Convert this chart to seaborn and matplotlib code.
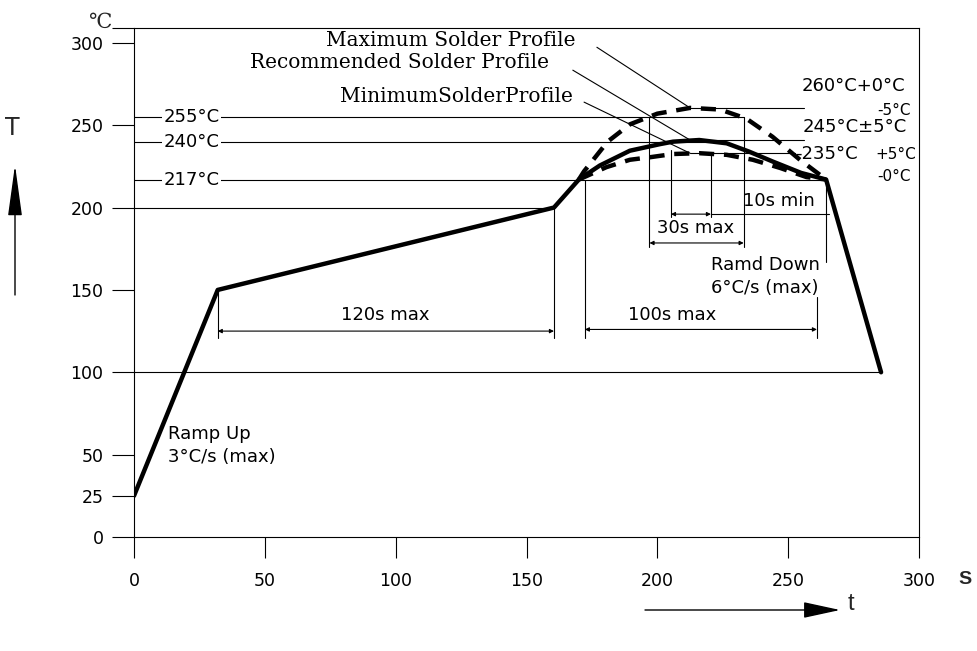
import matplotlib.pyplot as plt
import pandas as pd
import seaborn as sns

# --------- profile data (t in s, T in degC)
rec_t = [0, 32, 160.5, 170, 178, 189.5, 201, 206, 216, 226.5, 235, 244, 255, 264.5, 285.5]
rec_T = [25, 150, 200, 217, 225.5, 234.5, 238.5, 240, 241, 239, 234, 228, 221, 217, 100]

max_t = [170, 172, 181, 189.5, 200, 212.5, 224, 234, 244, 254.5, 264.5]
max_T = [217, 222, 240, 250.5, 257, 260.5, 259.5, 254, 243, 229, 217]

min_t = [170, 180.5, 189.5, 197, 206, 216, 226.5, 236.5, 247, 257, 264.5]
min_T = [217, 224.5, 229, 230.5, 232.5, 233, 232, 229, 224, 218.5, 217]

x_ticks = [0, 50, 100, 150, 200, 250, 300]
y_ticks = [0, 25, 50, 100, 150, 200, 250, 300]
t_end, T_top = 300, 309

# labelled horizontal lines from the axis: (label, T, t where it stops)
left_lines = [("255°C", 255, 233), ("240°C", 240, 220.5), ("217°C", 217, 264.5)]
plain_lines = [(200, 160.5), (100, 285.5)]

# lines to the right from the peaks
peak_t = 212.5
right_lines = [(260.5, 256), (241, 256), (233, 252.6)]

# dimension spans: (t0, t1, T, text, text_t, text_T)
dims = [(32, 160.5, 125, "120s max", 96, 135),
        (172.3, 261, 126, "100s max", 205.6, 135),
        (197, 233, 178.5, "30s max", 214.8, 187.5),
        (205.2, 220.5, 196, "", 0, 0)]
# vertical helper lines: (t, T_from, T_to)
vlines = [(32, 150, 121), (160.5, 200, 121), (172.3, 217, 121), (261, 145.6, 121),
          (197, 255, 176), (233, 255, 176), (205.2, 235, 194), (220.5, 233.5, 194),
          (264.5, 217, 167)]

sns.set_theme(style="white")
plt.rcParams["font.family"] = ["DejaVu Sans"]

fig = plt.figure(figsize=(9.78, 6.51), dpi=100)
ax = fig.add_axes([134 / 978, 114 / 651, 785 / 978, 509 / 651])

ink = "black"
thin = 0.8

# --------- profiles
rec = pd.DataFrame({"t": rec_t, "T": rec_T})
mx = pd.DataFrame({"t": max_t, "T": max_T})
mn = pd.DataFrame({"t": min_t, "T": min_T})
sns.lineplot(data=rec, x="t", y="T", sort=False, estimator=None, color=ink, lw=3.2, ax=ax, zorder=5)
sns.lineplot(data=mx, x="t", y="T", sort=False, estimator=None, color=ink, lw=3.2, ax=ax,
             linestyle=(0, (3.4, 2.2)), zorder=5)
sns.lineplot(data=mn, x="t", y="T", sort=False, estimator=None, color=ink, lw=3.2, ax=ax,
             linestyle=(0, (3.4, 2.2)), zorder=5)

# --------- reference lines
txt = dict(color=ink, fontsize=13)
for lab, T, t1 in left_lines:
    ax.plot([0, t1], [T, T], color=ink, lw=thin)
    ax.text(22, T, lab, ha="center", va="center", bbox=dict(fc="white", ec="none", pad=1), **txt)
for T, t1 in plain_lines:
    ax.plot([0, t1], [T, T], color=ink, lw=thin)
for T, t1 in right_lines:
    ax.plot([peak_t, t1], [T, T], color=ink, lw=thin)
ax.plot([220.5, 265.6], [196, 196], color=ink, lw=thin)
for t, a, b in vlines:
    ax.plot([t, t], [a, b], color=ink, lw=thin)
for t0, t1, T, lab, tx, ty in dims:
    ax.annotate("", xy=(t1, T), xytext=(t0, T),
                arrowprops=dict(arrowstyle="<|-|>", mutation_scale=6, lw=thin, color=ink,
                                shrinkA=0, shrinkB=0))
    if lab:
        ax.text(tx, ty, lab, ha="center", va="center", **txt)

# --------- annotations
ax.text(232.7, 204, "10s min", ha="left", va="center", **txt)
ax.text(220.5, 165, "Ramd Down", ha="left", va="center", **txt)
ax.text(220.5, 151, "6°C/s (max)", ha="left", va="center", **txt)
ax.text(13, 62.5, "Ramp Up", ha="left", va="center", **txt)
ax.text(13, 48.5, "3°C/s (max)", ha="left", va="center", **txt)

ax.text(255.3, 273.5, "260°C+0°C", ha="left", va="center", **txt)
ax.text(296.9, 259, "-5°C", ha="right", va="center", color=ink, fontsize=11)
ax.text(255.6, 249, "245°C±5°C", ha="left", va="center", **txt)
ax.text(252.6, 232.5, "-235°C", ha="left", va="center", **txt)
ax.text(283.5, 232.5, "+5°C", ha="left", va="center", color=ink, fontsize=11)
ax.text(296.9, 219, "-0°C", ha="right", va="center", color=ink, fontsize=11)

serif = dict(color=ink, fontsize=14.5, family=["DejaVu Serif"])
notes = [("Maximum Solder Profile", 121, 301.6, (176.9, 297.3), 260.5),
         ("Recommended Solder Profile", 101.6, 288.2, (167.7, 283.4), 241),
         ("MinimumSolderProfile", 123.4, 267.6, (172, 264), 233)]
for lab, tx, ty, start, T in notes:
    ax.text(tx, ty, lab, ha="center", va="center", **serif)
    ax.annotate("", xy=(peak_t, T), xytext=start,
                arrowprops=dict(arrowstyle="-", lw=thin, color=ink, shrinkA=0, shrinkB=0))

# --------- axes
ax.set_xlim(0, t_end)
ax.set_ylim(0, T_top)
ax.set_xticks(x_ticks)
ax.set_xticklabels([str(v) for v in x_ticks])
ax.set_yticks(y_ticks)
ax.set_yticklabels([str(v) for v in y_ticks])
ax.set_yticks([T_top], minor=True)
ax.yaxis.get_major_ticks()[-1].tick1line.set_visible(False)
ax.set_xlabel("")
ax.set_ylabel("")
ax.tick_params(axis="x", which="major", direction="out", length=15, width=thin, pad=10,
               labelsize=12.5, colors=ink, bottom=True)
ax.tick_params(axis="y", which="both", direction="out", length=16, width=thin, pad=6,
               labelsize=12.5, colors=ink, left=True)
for s in ax.spines.values():
    s.set_visible(True)
    s.set_color(ink)
    s.set_linewidth(thin)

# axis arrows and unit marks
fig.text(100 / 978, 629 / 651, "℃", ha="center", va="center", fontsize=15, family=["DejaVu Serif"])
fig.text(12 / 978, 523 / 651, "T", ha="center", va="center", fontsize=17)
ax.annotate("", xy=(15, 486), xytext=(15, 356), xycoords="figure pixels", textcoords="figure pixels",
            arrowprops=dict(arrowstyle="-|>,head_length=1.6,head_width=0.22", mutation_scale=20,
                            color=ink, lw=1, shrinkA=0, shrinkB=0))
ax.annotate("", xy=(840, 41), xytext=(645, 41), xycoords="figure pixels", textcoords="figure pixels",
            arrowprops=dict(arrowstyle="-|>,head_length=1.15,head_width=0.25", mutation_scale=20,
                            color=ink, lw=1, shrinkA=0, shrinkB=0))
fig.text(851 / 978, 47 / 651, "t", ha="center", va="center", fontsize=17, family=["Liberation Sans"])
fig.text(965 / 978, 71 / 651, "S", ha="center", va="center", fontsize=14, fontweight="bold",
         family=["Liberation Sans"])

fig.savefig("out.png", dpi=100)
